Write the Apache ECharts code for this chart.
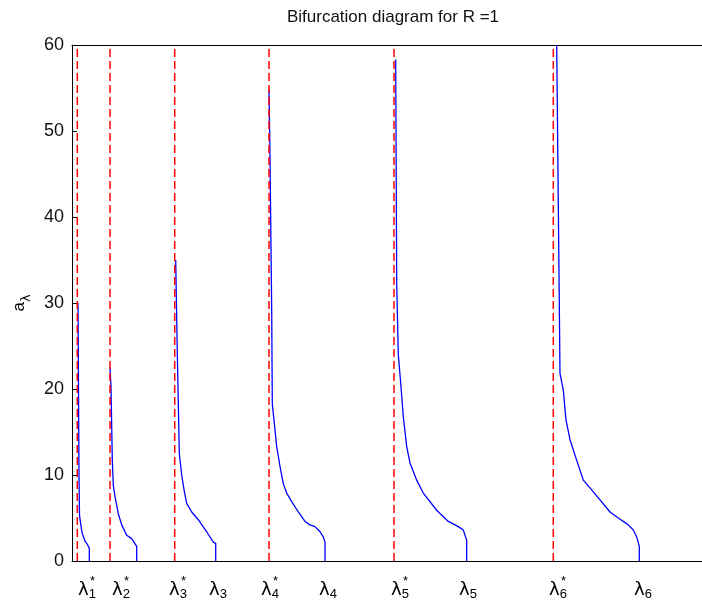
<!DOCTYPE html>
<html>
<head>
<meta charset="utf-8">
<script src="https://cdn.jsdelivr.net/npm/echarts@6/dist/echarts.min.js"></script>
<style>html,body{margin:0;padding:0;background:#fff;}#c{width:702px;height:607px;}</style>
</head>
<body>
<div id="c"></div>
<script>
// ---- data (λ in arbitrary units, a_λ values) ----
const titleText = 'Bifurcation diagram for R =1';
const lambdaStar = [0.53, 3.8, 10.27, 19.7, 32.2, 48.13];
const yMax = 60;

const curve1X = [1.73, 1.73, 1.5, 1.3, 1.0, 0.85, 0.75, 0.7, 0.65, 0.6];
const curve1Y = [0, 1.5, 2.0, 2.3, 3.3, 4.5, 5.3, 10, 20, 30];

const curve2X = [6.47, 6.47, 5.97, 5.47, 4.97, 4.63, 4.3, 4.13, 4.03, 3.9, 3.8];
const curve2Y = [0, 1.7, 2.6, 3.0, 4.2, 5.5, 7.5, 8.8, 11.7, 20.3, 22.5];

const curve3X = [14.37, 14.37, 14.13, 13.47, 12.63, 11.97, 11.47, 11.23, 10.97, 10.73, 10.53, 10.37];
const curve3Y = [0, 2.05, 2.2, 3.4, 4.8, 5.7, 6.7, 8.1, 10, 12.5, 24.2, 35];

const curve4X = [25.3, 25.3, 25.13, 24.8, 24.3, 23.8, 23.3, 22.63, 21.97, 21.47, 21.13, 20.8, 20.47, 20.23, 20.03, 19.97, 19.8, 19.7];
const curve4Y = [0, 2.2, 2.8, 3.4, 4.0, 4.2, 4.6, 5.7, 6.9, 7.9, 9.0, 11, 13.3, 16, 18.3, 29.2, 47, 54.8];

const curve5X = [39.47, 39.47, 39.13, 38.63, 37.63, 36.47, 35.13, 34.47, 33.8, 33.47, 33.13, 32.87, 32.63, 32.47, 32.37];
const curve5Y = [0, 2.4, 3.6, 4.0, 4.6, 5.9, 7.9, 9.4, 11.4, 13.3, 16.8, 20.7, 24, 32.3, 58.3];

const curve6X = [56.73, 56.73, 56.47, 56.13, 55.63, 54.63, 53.8, 52.8, 51.8, 51.13, 50.47, 49.8, 49.4, 49.13, 48.8, 48.63, 48.47];
const curve6Y = [0, 1.7, 2.8, 3.6, 4.2, 5.0, 5.7, 7.1, 8.5, 9.4, 11.7, 14.1, 16.4, 19.9, 21.8, 41.6, 60];

// x tick labels: position, index, starred?
const tickPos   = [1.5, 4.9, 10.6, 14.6, 19.8, 25.6, 32.8, 39.6, 48.6, 57.1];
const tickIndex = ['1', '2', '3', '3', '4', '4', '5', '5', '6', '6'];
const tickStar  = [true, true, true, false, true, false, true, false, true, false];
const yTicks = [0, 10, 20, 30, 40, 50, 60];

// ---- build ----
const curvesX = [curve1X, curve2X, curve3X, curve4X, curve5X, curve6X];
const curvesY = [curve1Y, curve2Y, curve3Y, curve4Y, curve5Y, curve6Y];
const series = [];
curvesX.forEach((xs, k) => {
  series.push({
    type: 'line', xAxisIndex: 0, yAxisIndex: 0,
    data: xs.map((x, i) => [x, curvesY[k][i]]),
    showSymbol: false, symbol: 'none', silent: true, animation: false,
    lineStyle: { color: '#0000ff', width: 1.3 }, z: 2
  });
});
lambdaStar.forEach(x => {
  series.push({
    type: 'line', xAxisIndex: 0, yAxisIndex: 0,
    data: [[x, 0], [x, yMax]],
    showSymbol: false, symbol: 'none', silent: true, animation: false,
    lineStyle: { color: '#ff0000', width: 1.5, type: [8, 4] }, z: 3
  });
});

function xLabel(v) {
  let best = 0, bd = Infinity;
  tickPos.forEach((p, i) => { const d = Math.abs(p - v); if (d < bd) { bd = d; best = i; } });
  const top = tickStar[best] ? '{st|*}' : '{st| }';
  return top + '\n{l|λ}{sub|' + tickIndex[best] + '}';
}

const chart = echarts.init(document.getElementById('c'), null, { renderer: 'canvas' });
chart.setOption({
  animation: false,
  backgroundColor: '#ffffff',
  title: {
    text: titleText, left: 388, top: 4, textAlign: 'center',
    textStyle: { fontFamily: 'Liberation Sans', fontSize: 17, fontWeight: 'normal', color: '#111' }
  },
  grid: { left: 72, right: 0, top: 45, bottom: 46, containLabel: false },
  xAxis: [{
    type: 'value', min: 0, max: 63, position: 'bottom',
    axisLine: { show: true, onZero: false, lineStyle: { color: '#000', width: 1 } },
    axisTick: { show: false },
    splitLine: { show: false },
    axisLabel: {
      customValues: tickPos, margin: 14, color: '#000', formatter: xLabel,
      rich: {
        st: { fontSize: 13, lineHeight: 6, verticalAlign: 'top', align: 'right', padding: [0, 1, 0, 0], fontFamily: 'Liberation Sans', color: '#000' },
        l: { fontSize: 18, lineHeight: 12, verticalAlign: 'top', fontFamily: 'DejaVu Sans', color: '#000' },
        sub: { fontSize: 13, lineHeight: 12, verticalAlign: 'top', padding: [7, 0, 0, 0], fontFamily: 'Liberation Sans', color: '#000' }
      }
    }
  }, {
    type: 'value', min: 0, max: 63, position: 'top',
    axisLine: { show: true, onZero: false, lineStyle: { color: '#000', width: 1 } },
    axisTick: { show: false }, axisLabel: { show: false }, splitLine: { show: false }
  }],
  yAxis: {
    type: 'value', min: 0, max: 60, interval: 10,
    name: '{a|a}{s|λ}', nameLocation: 'middle', nameRotate: 90, nameGap: 38,
    nameTextStyle: {
      color: '#000',
      rich: {
        a: { fontSize: 17, lineHeight: 12, verticalAlign: 'top', fontFamily: 'Liberation Sans', color: '#000' },
        s: { fontSize: 13, lineHeight: 12, verticalAlign: 'top', padding: [9, 0, 0, 0], fontFamily: 'DejaVu Sans', color: '#000' }
      }
    },
    axisLine: { show: true, onZero: false, lineStyle: { color: '#000', width: 1 } },
    axisTick: { show: true, inside: true, length: 5, lineStyle: { color: '#000' } },
    axisLabel: { margin: 8, color: '#111', fontSize: 18, fontFamily: 'Liberation Sans',
      formatter: v => (yTicks.indexOf(v) >= 0 ? String(v) : '') },
    splitLine: { show: false }
  },
  series: series
});
</script>
</body>
</html>
